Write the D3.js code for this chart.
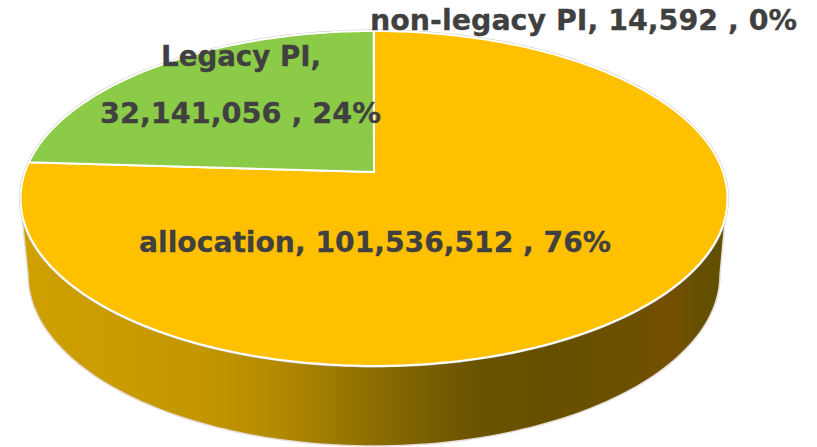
<!DOCTYPE html>
<html><head><meta charset="utf-8">
<script src="https://cdn.jsdelivr.net/npm/d3@7"></script>
<style>html,body{margin:0;padding:0;background:#fff}svg{display:block}</style>
</head><body><svg id="c" width="817" height="447"></svg>
<script>
const categories = ["allocation", "Legacy PI", "non-legacy PI"];
const values = [101536512, 32141056, 14592];
const colors = ["#ffc000", "#8ccb47", "#4472c4"];
const wallStops = [[0,"#d0a000"],[0.12,"#cb9c00"],[0.25,"#c49700"],[0.36,"#b48a00"],[0.45,"#9a7800"],[0.55,"#7f6300"],[0.65,"#6a5300"],[0.76,"#665000"],[0.88,"#6e5000"],[0.92,"#754f00"],[0.96,"#655000"],[1,"#5f5000"]];

const svg = d3.select("#c");
const total = d3.sum(values);
const pct = d3.format(".0%"), num = d3.format(",");
const TAU = 2*Math.PI;

// perspective projection of the pie disc
const cx = 374, persp = 0.158, apexY = 172, slopeY = -136.1, rad = 349;
function proj(angle, r=1){
  const u = r*Math.sin(angle), v = r*Math.cos(angle);
  const w = persp*v + 1;
  return [cx + rad*u/w, (slopeY*v + apexY)/w];
}
const line = d3.line().curve(d3.curveLinear);
const arcs = d3.pie().sort(null).value(d=>d)(values);
function slicePath(a){
  const n = Math.max(2, Math.ceil((a.endAngle-a.startAngle)*60));
  const pts = d3.range(n+1).map(i=>proj(a.startAngle+(a.endAngle-a.startAngle)*i/n));
  return line([proj(0,0),...pts])+"Z";
}

// wall
const defs = svg.append("defs");
const g = defs.append("linearGradient").attr("id","wall");
g.selectAll("stop").data(wallStops).join("stop")
  .attr("offset",d=>d[0]).attr("stop-color",d=>d[1]);

const topE = {cx:373.5, cy:198.5, rx:353.5, ry:167.5};
const botE = {cx:374, cy:275, rx:346, ry:171};
const half = (e,t)=>[e.cx+e.rx*Math.cos(t), e.cy+e.ry*Math.sin(t)];
const ts = d3.range(0,121).map(i=>i/120*Math.PI);
const wallPts = [...ts.map(t=>half(botE,t)), ...ts.map(t=>half(topE,t)).reverse()];
svg.append("path").attr("d",line(wallPts)+"Z")
  .attr("fill","url(#wall)").attr("stroke","#e4dcd8").attr("stroke-width",1.5);

// outer soft outline, then slices
const full = d3.range(0,361).map(i=>proj(i/360*TAU));
svg.append("path").attr("d",line(full)+"Z").attr("fill","none").attr("stroke","#c9c9c9").attr("stroke-width",3);
svg.selectAll("path.slice").data(arcs).join("path").attr("class","slice")
  .attr("d",slicePath).attr("fill",(d,i)=>colors[i])
  .attr("stroke","#fff").attr("stroke-width",2).attr("stroke-linejoin","round");

// labels
const label = i => `${categories[i]}, ${num(values[i])} , ${pct(values[i]/total)}`;
const lbl = [
 {t:label(2), x:370, y:29.5, w:427},
 {t:`${categories[1]},`, x:161, y:66, w:160},
 {t:`${num(values[1])} , ${pct(values[1]/total)}`, x:100, y:123, w:281},
 {t:label(0), x:139, y:252, w:472}
];
svg.selectAll("text").data(lbl).join("text")
  .attr("x",d=>d.x).attr("y",d=>d.y).text(d=>d.t)
  .attr("textLength",d=>d.w).attr("lengthAdjust","spacingAndGlyphs")
  .attr("font-family","'DejaVu Sans',sans-serif").attr("font-weight",700)
  .attr("font-size",29).attr("fill","#404040")
  .attr("stroke","#404040").attr("stroke-width",0.3);
</script></body></html>
